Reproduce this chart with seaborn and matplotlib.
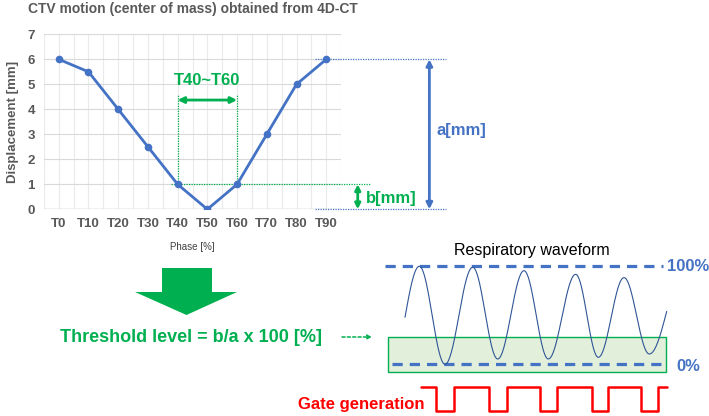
import numpy as np
import pandas as pd
import seaborn as sns
import matplotlib.pyplot as plt
from matplotlib.patches import Polygon, Rectangle

# CTV displacement per 4D-CT phase
phases = ["T0", "T10", "T20", "T30", "T40", "T50", "T60", "T70", "T80", "T90"]
displacement = [6, 5.5, 4, 2.5, 1, 0, 1, 3, 5, 6]

# respiratory waveform, read as turning points (time, % of amplitude)
wave_t = [2.5, 3.93, 6.5, 9.27, 11.77, 14.4, 16.83, 19.57, 21.83, 24.4, 26.93, 28.67]
wave_pct = [48, 100, 0, 99, 5.4, 95.5, 5.4, 91.8, 7.1, 88.4, 10.5, 54]

# gate signal: switching times and on/off state
gate_t = [4.07, 5.6, 7.4, 10.93, 12.73, 16.0, 17.73, 21.17, 22.77, 26.07, 27.77, 28.67]
gate_on = [1, 0, 1, 0, 1, 0, 1, 0, 1, 0, 1, 1]

BLUE = "#4472C4"
GREEN = "#00B050"
GRAY = "#595959"
RED = "#FF0000"

sns.set_style("white")
plt.rcParams["font.family"] = ["Liberation Sans", "DejaVu Sans"]

fig = plt.figure(figsize=(7.09, 4.16), dpi=100)
W, H = 709, 416


def px_axes(x0, y0, x1, y1):
    return fig.add_axes([x0 / W, 1 - y1 / H, (x1 - x0) / W, (y1 - y0) / H])


# ---- top chart ----
ax = px_axes(43.9, 34.3, 341.1, 209.3)
df = pd.DataFrame({"pos": np.arange(len(phases)), "disp": displacement})
sns.lineplot(data=df, x="pos", y="disp", ax=ax, color=BLUE, lw=2,
             marker="o", markersize=5.5, markeredgewidth=0, zorder=5)
ax.set_xlim(-0.5, len(phases) - 0.5)
ax.set_ylim(0, 7)
ax.set_xticks(np.arange(len(phases)))
ax.set_xticklabels(phases)
ax.set_xticks(np.arange(-0.5, len(phases), 0.5), minor=True)
ax.set_yticks(range(8))
ax.grid(True, axis="y", color="#D9D9D9", lw=0.8)
ax.grid(True, axis="x", which="both", color="#EAEAEA", lw=0.8)
ax.axhline(0, color="#BFBFBF", lw=1)
for s in ax.spines.values():
    s.set_visible(False)
ax.tick_params(which="both", length=0, pad=6.5, labelsize=9.5, labelcolor=GRAY)
for lab in ax.get_xticklabels() + ax.get_yticklabels():
    lab.set_fontweight("bold")
ax.set_xlabel("")
ax.set_ylabel("Displacement [mm]", fontsize=9.5, fontweight="bold", color=GRAY, labelpad=6)

# T40~T60 window
i40, i60 = phases.index("T40"), phases.index("T60")
thr = displacement[i40]
for i in (i40, i60):
    ax.plot([i, i], [thr, 4.57], color=GREEN, lw=0.9, ls=(0, (1, 1)), zorder=2)
ax.plot([i40 - 0.21, 10.47], [thr, thr], color=GREEN, lw=0.9, ls=(0, (1, 1)), clip_on=False)
ax.annotate("", xy=(i60, 4.37), xytext=(i40, 4.37),
            arrowprops=dict(arrowstyle="<|-|>", color=GREEN, lw=2, mutation_scale=9,
                            shrinkA=0, shrinkB=0))
ax.text((i40 + i60) / 2, 5.17, "T40~T60", color=GREEN, fontsize=12, fontweight="bold",
        ha="center", va="center")

# a and b dimension markers
amax = max(displacement)
for yv in (amax, 0):
    ax.plot([8.62, 13.03], [yv, yv], color=BLUE, lw=0.9, ls=(0, (1, 1)), clip_on=False)
ax.annotate("", xy=(12.47, 0), xytext=(12.47, amax), annotation_clip=False,
            arrowprops=dict(arrowstyle="<|-|>", color=BLUE, lw=2, mutation_scale=9,
                            shrinkA=0, shrinkB=0))
ax.text(12.72, 3.14, "a[mm]", color=BLUE, fontsize=12, fontweight="bold", va="center")
ax.annotate("", xy=(10.06, 0), xytext=(10.06, thr), annotation_clip=False,
            arrowprops=dict(arrowstyle="<|-|>", color=GREEN, lw=2, mutation_scale=8,
                            shrinkA=0, shrinkB=0))
ax.text(10.34, 0.44, "b[mm]", color=GREEN, fontsize=12, fontweight="bold", va="center")

# ---- overlay in pixel space for titles and block arrow ----
ov = px_axes(0, 0, W, H)
ov.set_xlim(0, W)
ov.set_ylim(H, 0)
ov.axis("off")
ov.text(28, 9.5, "CTV motion (center of mass) obtained from 4D-CT", fontsize=10,
        fontweight="bold", color=GRAY, va="center")
ov.text(192, 247, "Phase [%]", fontsize=7, color="#404040", ha="center", va="center")
ov.add_patch(Polygon([(162, 268), (212, 268), (212, 292), (237, 292), (186.5, 315),
                      (135, 292), (162, 292)], closed=True, color=GREEN, lw=0))
ov.text(60, 338, "Threshold level = b/a x 100 [%]", fontsize=13, fontweight="bold",
        color=GREEN, va="center")
ov.annotate("", xy=(372, 337), xytext=(342, 337),
            arrowprops=dict(arrowstyle="-|>", color=GREEN, lw=1.1, ls=(0, (2, 1.5)),
                            mutation_scale=6, shrinkA=0, shrinkB=0))
ov.text(298, 405, "Gate generation", fontsize=12, fontweight="bold", color=RED, va="center")

# ---- respiratory waveform + gate ----
wx = px_axes(380, 256, 680, 416)
wx.set_xlim(0, 30)
wx.set_ylim(-52.8, 110.5)
wx.axis("off")

tt, yy = [], []
n = len(wave_t)
for k in range(n - 1):
    s = np.linspace(0, 1, 40)
    y0, y1 = wave_pct[k], wave_pct[k + 1]
    if k == 0:
        f = np.sin(np.pi / 2 * s)
    elif k == n - 2:
        f = 1 - np.cos(np.pi / 2 * s)
    else:
        f = (1 - np.cos(np.pi * s)) / 2
    tt.extend(wave_t[k] + (wave_t[k + 1] - wave_t[k]) * s)
    yy.extend(y0 + (y1 - y0) * f)
wave = pd.DataFrame({"t": tt, "pct": yy})

wx.add_patch(Rectangle((0.8, -8.2), 27.8, 36.4, facecolor="#E2EFDA", edgecolor=GREEN,
                       lw=1, zorder=1))
sns.lineplot(data=wave, x="t", y="pct", ax=wx, sort=False, estimator=None,
             color="#2F5597", lw=0.8, zorder=3)
wx.plot([0.5, 28.3], [100, 100], color=BLUE, lw=2.3, ls=(0, (3.2, 2.2)), zorder=2)
wx.plot([1.17, 28.3], [0, 0], color=BLUE, lw=2.3, ls=(0, (3.2, 2.2)), zorder=2)
wx.text(28.7, 100, "100%", color=BLUE, fontsize=12, fontweight="bold", va="center")
wx.text(29.6, -2.4, "0%", color=BLUE, fontsize=12, fontweight="bold", va="center")
wx.text(15.17, 116.6, "Respiratory waveform", fontsize=11.5, color="black",
        ha="center", va="center")

gate_y = [-22.9 if g else -47.3 for g in gate_on]
wx.plot(gate_t, gate_y, drawstyle="steps-post", color=RED, lw=1.8, clip_on=False)
wx.set_xlabel("")
wx.set_ylabel("")

fig.savefig("out.png", dpi=100)
